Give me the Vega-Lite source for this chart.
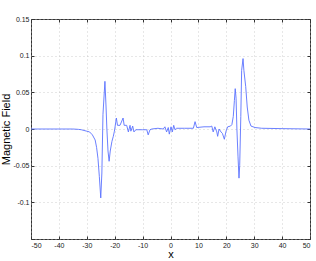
{
  "$schema": "https://vega.github.io/schema/vega-lite/v6.json",
  "autosize": "none",
  "width": 279,
  "height": 220,
  "padding": {"left": 31, "top": 19, "right": 6, "bottom": 22},
  "config": {
    "view": {"stroke": "#333", "strokeWidth": 1},
    "font": "Liberation Sans",
    "axis": {
      "labelFont": "Liberation Sans",
      "titleFont": "Liberation Sans",
      "labelFontSize": 7,
      "labelColor": "#222",
      "titleFontSize": 11,
      "titleFontWeight": "normal",
      "titleColor": "#000",
      "grid": true,
      "gridColor": "#bbb",
      "gridDash": [1, 3],
      "gridWidth": 0.7,
      "domain": false,
      "tickColor": "#333",
      "tickSize": -3,
      "labelPadding": 5
    }
  },
  "data": {"values": [
    {"x": -50, "y": 0}, {"x": -40, "y": 0}, {"x": -35, "y": 0}, {"x": -33, "y": -0.0005},
    {"x": -32, "y": -0.001}, {"x": -31, "y": -0.002}, {"x": -30, "y": -0.003}, {"x": -29, "y": -0.004},
    {"x": -28, "y": -0.008}, {"x": -27, "y": -0.015}, {"x": -26.5, "y": -0.025}, {"x": -26, "y": -0.04},
    {"x": -25.5, "y": -0.065}, {"x": -25, "y": -0.094}, {"x": -24.6, "y": -0.06}, {"x": -24.2, "y": 0.02},
    {"x": -23.5, "y": 0.065}, {"x": -23.1, "y": 0.03}, {"x": -22.8, "y": 0.0}, {"x": -22.4, "y": -0.03},
    {"x": -22.0, "y": -0.044}, {"x": -21.6, "y": -0.03}, {"x": -21.0, "y": -0.017}, {"x": -20.5, "y": -0.01},
    {"x": -20.1, "y": -0.003}, {"x": -19.4, "y": 0.015}, {"x": -19.0, "y": 0.005}, {"x": -18.1, "y": 0.005},
    {"x": -17.0, "y": 0.015}, {"x": -16.6, "y": 0.005}, {"x": -15.7, "y": 0.005}, {"x": -15.1, "y": -0.004},
    {"x": -14.5, "y": 0.005}, {"x": -14.2, "y": -0.003}, {"x": -13.55, "y": 0.004}, {"x": -13.1, "y": -0.004},
    {"x": -12.4, "y": -0.001}, {"x": -10, "y": -0.001}, {"x": -8.5, "y": -0.001}, {"x": -8.0, "y": -0.008},
    {"x": -7.35, "y": -0.001}, {"x": -6.7, "y": 0}, {"x": -4.5, "y": 0.001}, {"x": -2.6, "y": 0},
    {"x": -2.0, "y": 0.003}, {"x": -1.4, "y": -0.004}, {"x": -0.8, "y": 0.002}, {"x": -0.43, "y": -0.007},
    {"x": 0.18, "y": 0.003}, {"x": 0.65, "y": -0.004}, {"x": 1.15, "y": 0.005}, {"x": 1.6, "y": -0.001},
    {"x": 2.2, "y": 0.001}, {"x": 5, "y": 0.001}, {"x": 8.2, "y": 0.001}, {"x": 8.8, "y": 0.01},
    {"x": 9.4, "y": 0.002}, {"x": 12, "y": 0.003}, {"x": 14.2, "y": 0.003}, {"x": 14.8, "y": 0.004},
    {"x": 15.3, "y": -0.004}, {"x": 15.9, "y": 0.003}, {"x": 16.6, "y": -0.004}, {"x": 16.9, "y": -0.01},
    {"x": 17.4, "y": 0.0}, {"x": 18.1, "y": -0.004}, {"x": 18.6, "y": -0.006}, {"x": 19.3, "y": -0.014},
    {"x": 19.9, "y": -0.003}, {"x": 20.5, "y": 0.003}, {"x": 21.5, "y": 0.004}, {"x": 22.0, "y": 0.006},
    {"x": 22.5, "y": 0.017}, {"x": 22.9, "y": 0.039}, {"x": 23.2, "y": 0.055}, {"x": 23.5, "y": 0.042},
    {"x": 23.8, "y": 0.0}, {"x": 24.2, "y": -0.038}, {"x": 24.55, "y": -0.067}, {"x": 24.8, "y": -0.05},
    {"x": 25.2, "y": 0.017}, {"x": 25.5, "y": 0.08}, {"x": 26.0, "y": 0.096}, {"x": 26.3, "y": 0.08},
    {"x": 26.95, "y": 0.058}, {"x": 27.5, "y": 0.03}, {"x": 28.1, "y": 0.012}, {"x": 28.85, "y": 0.004},
    {"x": 30.3, "y": 0.002}, {"x": 32.7, "y": 0.001}, {"x": 40, "y": 0.0005}, {"x": 50, "y": 0}
  ]},
  "layer": [
    {
      "mark": {"type": "line", "color": "#5a72ff", "strokeWidth": 0.9},
      "encoding": {
        "x": {"field": "x", "type": "quantitative", "scale": {"domain": [-50, 50], "nice": false},
              "axis": {"values": [-50, -40, -30, -20, -10, 0, 10, 20, 30, 40, 50], "title": "x", "titlePadding": 0,
                       "labelExpr": "replace(format(datum.value, '~g'), '−', '-')"}},
        "y": {"field": "y", "type": "quantitative", "scale": {"domain": [-0.15, 0.15], "nice": false, "zero": false},
              "axis": {"values": [-0.15, -0.1, -0.05, 0, 0.05, 0.1, 0.15], "title": "Magnetic Field", "titlePadding": 2,
                       "labelExpr": "datum.value < -0.12 ? '' : replace(format(datum.value, '~g'), '−', '-')"}}
      }
    },
    {
      "mark": {"type": "line", "opacity": 0},
      "encoding": {
        "x": {"field": "x", "type": "quantitative", "scale": {"domain": [-50, 50], "nice": false},
              "axis": {"orient": "top", "values": [-50, -40, -30, -20, -10, 0, 10, 20, 30, 40, 50], "labels": false, "title": null, "grid": false}},
        "y": {"field": "y", "type": "quantitative", "scale": {"domain": [-0.15, 0.15], "nice": false, "zero": false},
              "axis": {"orient": "right", "values": [-0.15, -0.1, -0.05, 0, 0.05, 0.1, 0.15], "labels": false, "title": null, "grid": false}}
      }
    }
  ],
  "resolve": {"axis": {"x": "independent", "y": "independent"}}
}
